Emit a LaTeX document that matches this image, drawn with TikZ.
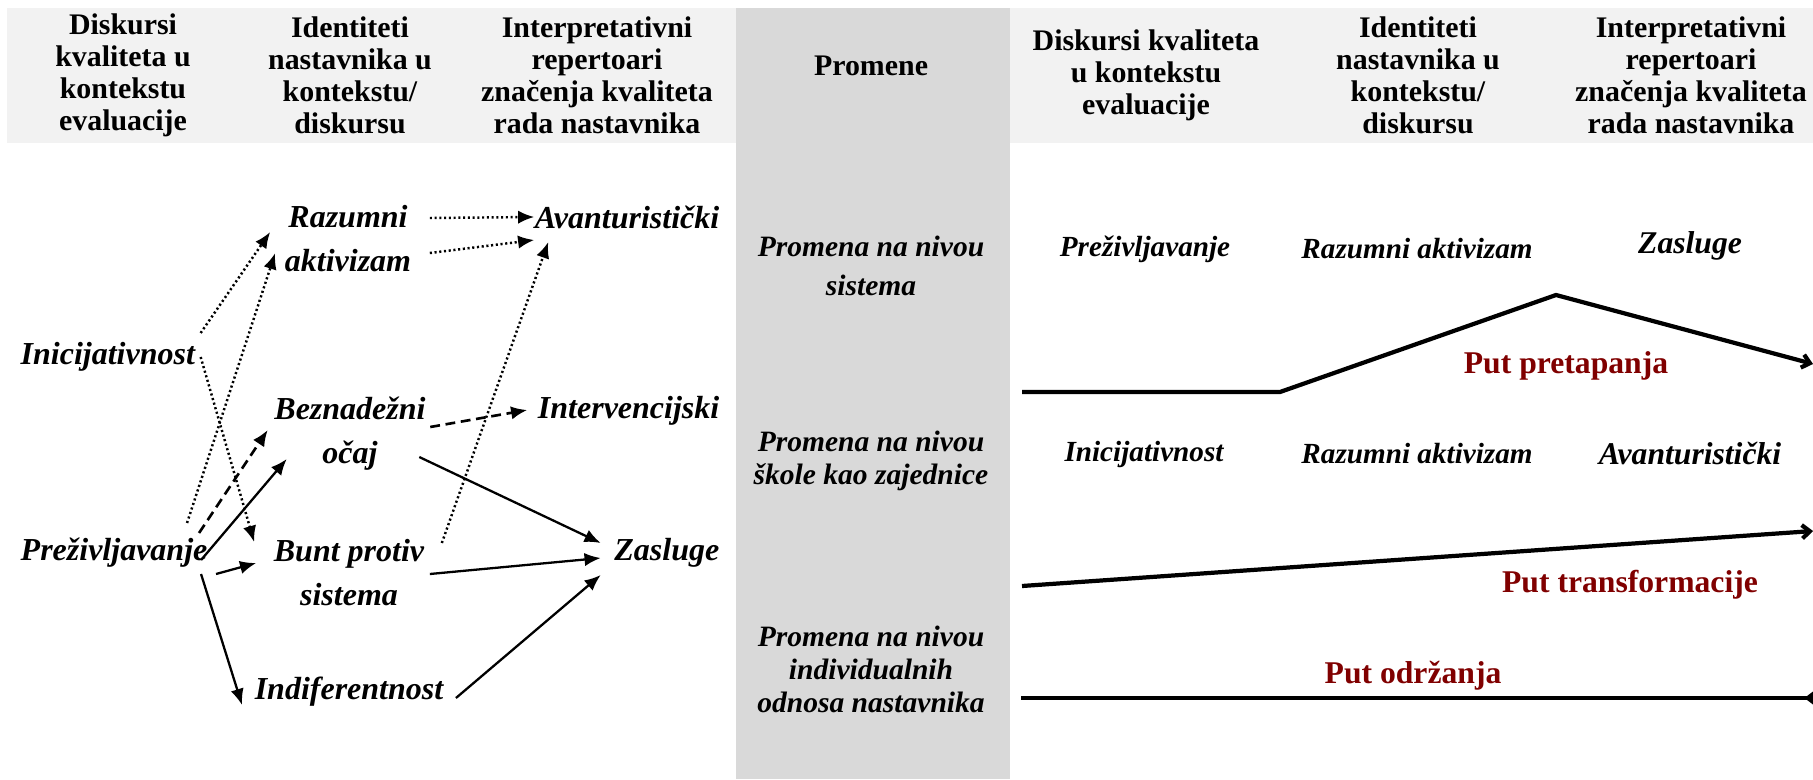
\documentclass[tikz,border=0pt]{standalone}
\usepackage{fontspec}
\setmainfont{Liberation Serif}
\usetikzlibrary{arrows.meta}
\definecolor{putred}{RGB}{128,0,0}
\begin{document}
\begin{tikzpicture}[x=0.01cm, y=-0.01cm,
  hdr/.style={align=center, inner sep=0pt, font=\fontsize{8.5}{9.1}\selectfont\bfseries},
  lbl/.style={align=center, inner sep=0pt, font=\fontsize{9.1}{12.5}\selectfont\bfseries\itshape},
  lvl/.style={align=center, inner sep=0pt, font=\fontsize{8.4}{9.4}\selectfont\bfseries\itshape},
  rlbl/.style={inner sep=0pt, font=\fontsize{8.3}{9}\selectfont\bfseries\itshape},
  rbig/.style={inner sep=0pt, font=\fontsize{9}{10}\selectfont\bfseries\itshape},
  put/.style={inner sep=0pt, text=putred, font=\fontsize{9}{10}\selectfont\bfseries},
  solarr/.style={line width=0.65pt, -{Latex[length=4.6pt,width=3.8pt]}},
  dotarr/.style={solarr, line width=0.7pt, dash pattern=on 0.6pt off 0.75pt},
  dsharr/.style={solarr, line width=0.75pt, dash pattern=on 2.8pt off 1.6pt},
  putline/.style={line width=1.2pt}]
\useasboundingbox (0,0) rectangle (1813,779);
\fill[black!5] (7,8) rectangle (736,143);
\fill[black!15] (736,8) rectangle (1010,779);
\fill[black!5] (1010,8) rectangle (1813,143);
\node[hdr] (h1) at (123,75) {Diskursi\\kvaliteta u\\kontekstu\\evaluacije};
\node[hdr] (h2) at (350,75) {Identiteti\\nastavnika u\\kontekstu/\\diskursu};
\node[hdr] (h3) at (597,75) {Interpretativni\\repertoari\\značenja kvaliteta\\rada nastavnika};
\node[hdr] (h4) at (871,66) {Promene};
\node[hdr] (h5) at (1146,75) {Diskursi kvaliteta\\u kontekstu\\evaluacije};
\node[hdr] (h6) at (1418,75) {Identiteti\\nastavnika u\\kontekstu/\\diskursu};
\node[hdr] (h7) at (1691,75) {Interpretativni\\repertoari\\značenja kvaliteta\\rada nastavnika};
\node[lbl, anchor=west] (ini) at (20,357) {Inicijativnost};
\node[lbl, anchor=west] (prez) at (20,553) {Preživljavanje};
\node[lbl] (raz) at (348,239) {Razumni\\aktivizam};
\node[lbl] (bez) at (350,434) {Beznadežni\\očaj};
\node[lbl] (bunt) at (349,573) {Bunt protiv\\sistema};
\node[lbl] (indif) at (349,692) {Indiferentnost};
\node[lbl, anchor=east] (avan) at (720,217) {Avanturistički};
\node[lbl, anchor=east] (interv) at (720,411) {Intervencijski};
\node[lbl, anchor=east] (zas) at (720,553) {Zasluge};
\draw[dotarr] ([shift={(18,-21)}]raz.east) -- (avan.west);
\draw[dotarr] ([shift={(18,14)}]raz.east) -- ([shift={(0,23)}]avan.west);
\draw[dotarr] ([shift={(5,-24)}]ini.east) -- ([shift={(-14,-7)}]raz.west);
\draw[dotarr] ([shift={(-21,-30)}]prez.east) -- ([shift={(-9,14)}]raz.west);
\draw[dotarr] ([shift={(5,0)}]ini.east) -- ([shift={(-19,-31)}]bunt.west);
\draw[dsharr] ([shift={(-9,-20)}]prez.east) -- ([shift={(-6,-4)}]bez.west);
\draw[solarr] ([shift={(-7,7)}]prez.east) -- ([shift={(13,25)}]bez.west);
\draw[solarr] ([shift={(8,21)}]prez.east) -- ([shift={(-17,-10)}]bunt.west);
\draw[solarr] ([shift={(-7,21)}]prez.east) -- ([shift={(-12,13)}]indif.west);
\draw[dsharr] ([shift={(4,-7)}]bez.east) -- ([shift={(-10,-1)}]interv.west);
\draw[dotarr] ([shift={(17,-30)}]bunt.east) -- ([shift={(14,25)}]avan.west);
\draw[solarr] ([shift={(-7,23)}]bez.east) -- ([shift={(-13,-10)}]zas.west);
\draw[solarr] ([shift={(5,1)}]bunt.east) -- ([shift={(-13,5)}]zas.west);
\draw[solarr] ([shift={(12,6)}]indif.east) -- ([shift={(-13,22)}]zas.west);
\node[lvl] (m1) at (871,266) {Promena na nivou\\[1.9pt]sistema};
\node[lvl] (m2) at (871,461) {Promena na nivou\\škole kao zajednice};
\node[lvl] (m3) at (871,669) {Promena na nivou\\individualnih\\odnosa nastavnika};
\node[rlbl] (r1) at (1145,249) {Preživljavanje};
\node[rlbl] (r2) at (1417,249) {Razumni aktivizam};
\node[rbig] (r3) at (1690,246) {Zasluge};
\node[rlbl] (r4) at (1144,454) {Inicijativnost};
\node[rlbl] (r5) at (1417,454) {Razumni aktivizam};
\node[rbig] (r6) at (1690,454) {Avanturistički};
\draw[putline, -{Straight Barb[length=2.2pt,width=3.8pt]}] (1022,392) -- (1280,392) -- (1556,295) -- (1813,364);
\draw[putline, -{Straight Barb[length=2.2pt,width=3.8pt]}] (1022,586) -- (1813,531);
\draw[putline, -{Diamond[length=5pt,width=3.8pt]}] (1021,698) -- (1822,698);
\node[put] (p1) at (1566,366) {Put pretapanja};
\node[put] (p2) at (1630,585) {Put transformacije};
\node[put] (p3) at (1413,676) {Put održanja};
\end{tikzpicture}
\end{document}
